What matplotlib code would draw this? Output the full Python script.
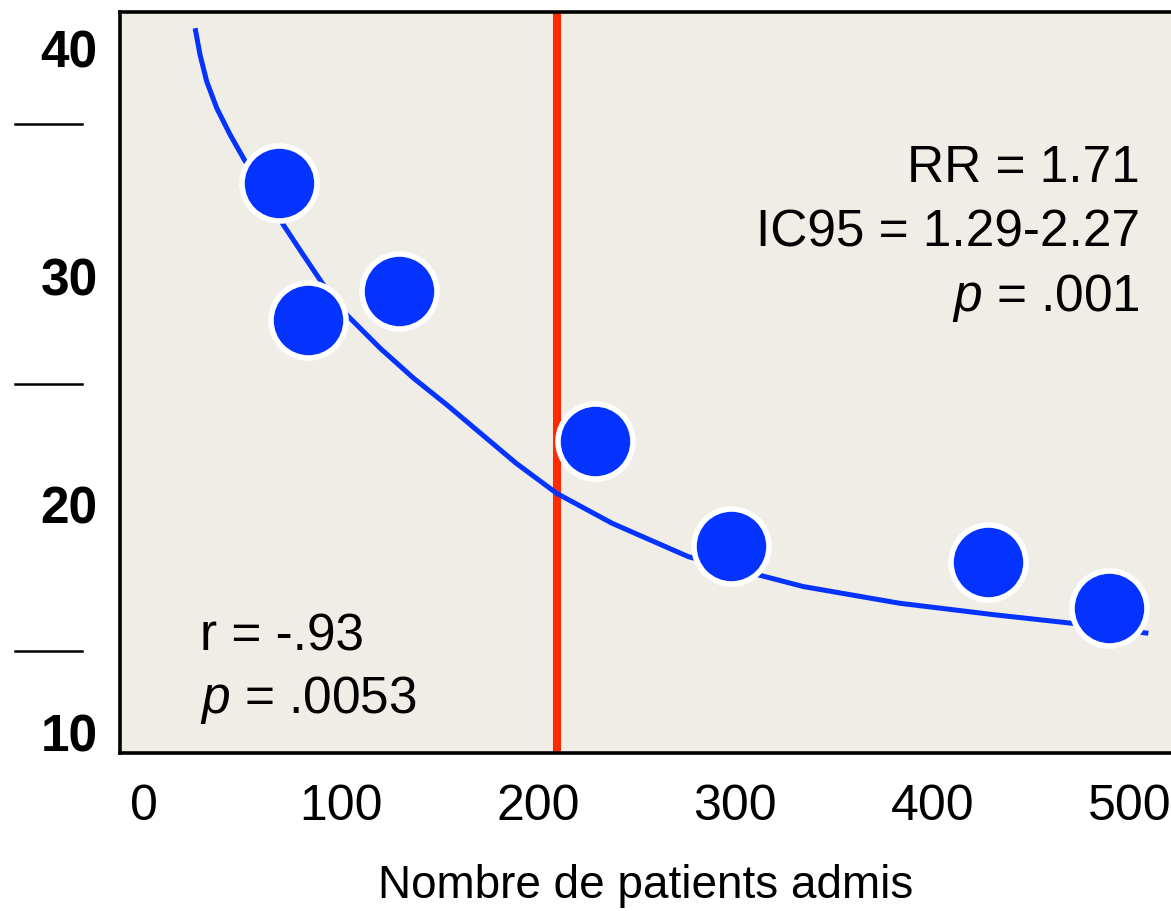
import numpy as np
import matplotlib
matplotlib.use("Agg")
import matplotlib.pyplot as plt
from matplotlib.transforms import blended_transform_factory

# observed points (patients admitted vs. value)
admis = [68.6, 83.3, 129.5, 228.9, 297.9, 428.3, 489.7]
valeurs = [34.1, 28.1, 29.4, 22.8, 18.2, 17.5, 15.5]

# fitted trend curve
curve_x = [26.0, 28.5, 31.9, 37.0, 43.8, 50.5, 70.8, 80.9, 91.1, 103.0, 119.9,
           136.8, 153.7, 188.8, 209.4, 237.4, 276.2, 334.5, 383.2, 431.7,
           470.7, 509.5]
curve_y = [40.91, 39.74, 38.57, 37.40, 36.23, 35.21, 32.28, 30.96, 29.65, 28.33,
           26.87, 25.56, 24.39, 21.83, 20.51, 19.20, 17.73, 16.42, 15.69, 15.18,
           14.81, 14.37]

seuil = 209.6
x_ticks = [0, 100, 200, 300, 400, 500]
y_ticks = [10, 20, 30, 40]
y_dashes = [36.7, 25.3, 13.6]

stats_right = ["RR = 1.71", "IC95 = 1.29-2.27", r"$\mathit{p}$ = .001"]
stats_left = ["r = -.93", r"$\mathit{p}$ = .0053"]

plt.rcParams["font.family"] = ["Liberation Sans", "DejaVu Sans"]
plt.rcParams["mathtext.fontset"] = "custom"
plt.rcParams["mathtext.rm"] = "Liberation Sans"
plt.rcParams["mathtext.it"] = "Liberation Sans:italic"

BLUE = "#0433ff"
RED = "#ff2a00"

fig = plt.figure(figsize=(11.71, 9.11), dpi=100)
ax = fig.add_axes([120 / 1171, 158 / 911, 1051 / 1171, 741 / 911])
ax.set_facecolor("#f0ede6")

ax.axvline(seuil, color=RED, lw=5.8, zorder=2)
ax.plot(curve_x, curve_y, color=BLUE, lw=3.6, zorder=3,
        solid_capstyle="butt", solid_joinstyle="round")
ax.plot(admis, valeurs, "o", ms=54, mfc=BLUE, mec="white", mew=4, zorder=4)

ax.set_xlim(-12.1, 521.0)
ax.set_ylim(9.12, 41.62)

ax.set_xticks(x_ticks)
ax.set_xticklabels([str(v) for v in x_ticks], fontsize=36)
ax.set_yticks(y_ticks)
ax.set_yticklabels([str(v) for v in y_ticks], fontsize=37, fontweight="bold")
ax.tick_params(axis="x", length=0, pad=22)
ax.tick_params(axis="y", length=0, pad=16)

for side in ["left", "bottom", "top"]:
    ax.spines[side].set_linewidth(2.6)
ax.spines["right"].set_visible(False)

# loose dashes left of the y labels
trans = blended_transform_factory(ax.transAxes, ax.transData)
for yd in y_dashes:
    ax.plot([-0.0999, -0.0362], [yd, yd], color="black", lw=1.8,
            transform=trans, clip_on=False)

ax.set_xlabel("Nombre de patients admis", fontsize=33, labelpad=25)

for txt, yb in zip(stats_right, [0.7706, 0.6829, 0.5965]):
    ax.text(0.9705, yb, txt, transform=ax.transAxes, ha="right",
            va="baseline", fontsize=37)
for txt, yb in zip(stats_left, [0.139, 0.054]):
    ax.text(0.076, yb, txt, transform=ax.transAxes, ha="left",
            va="baseline", fontsize=37)

fig.savefig("out.png", dpi=100)
